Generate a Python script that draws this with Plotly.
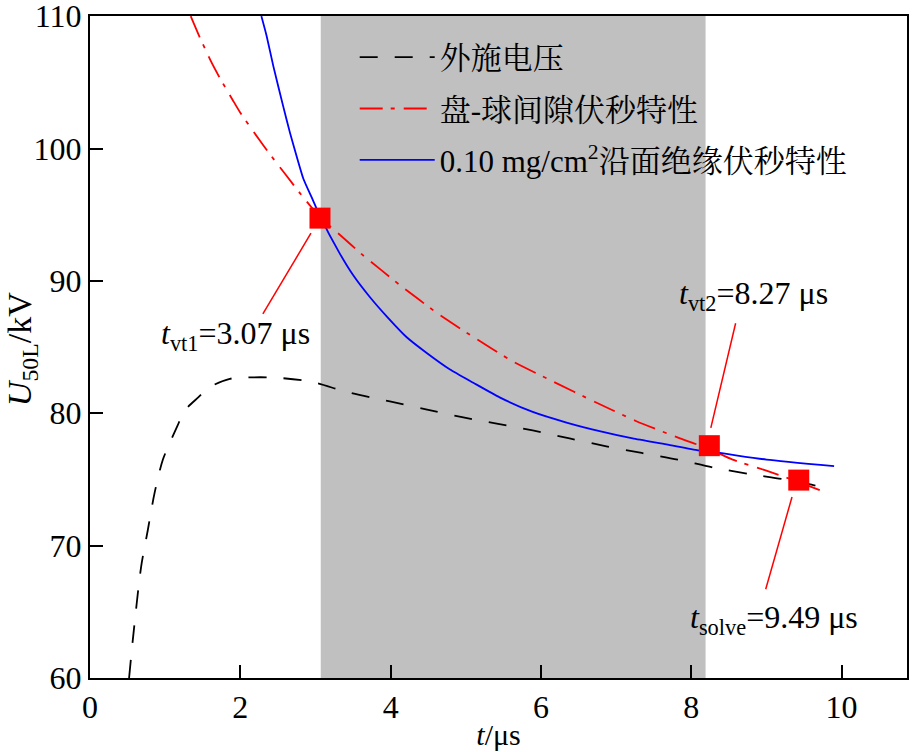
import plotly.graph_objects as go

# ---- data ----
applied_t = [0.52, 0.57, 0.68, 0.77, 0.86, 0.97, 1.16, 1.26, 1.44, 1.60, 1.86, 2.09, 2.43,
             2.93, 3.42, 3.99, 4.47, 4.95, 5.43, 5.89, 6.38, 6.87, 7.34, 7.82, 8.29, 8.78,
             9.24, 9.60, 9.75]
applied_u = [60.0, 62.9, 68.4, 71.2, 74.0, 76.5, 79.0, 80.2, 81.2, 82.0, 82.6, 82.7, 82.7,
             82.4, 81.6, 80.9, 80.3, 79.7, 79.2, 78.7, 78.1, 77.5, 77.0, 76.5, 75.9, 75.4,
             75.0, 74.6, 74.4]

gap_t = [1.34, 1.46, 1.60, 1.73, 1.90, 2.00, 2.26, 2.39, 2.62, 2.79, 3.07, 3.32, 3.63, 4.12,
         4.61, 5.10, 5.63, 6.16, 6.72, 7.27, 7.85, 8.24, 8.55, 8.98, 9.43, 9.75]
gap_u = [110.0, 108.4, 106.7, 105.3, 103.65, 102.7, 100.6, 99.6, 97.9, 96.65, 94.74, 93.5,
         91.95, 89.7, 87.6, 85.76, 83.9, 82.4, 80.85, 79.4, 78.1, 77.3, 76.5, 75.7, 74.8, 74.1]

surf_t = [2.28, 2.35, 2.44, 2.57, 2.66, 2.75, 2.84, 2.95, 3.06, 3.32, 3.50, 3.72, 3.95, 4.21,
          4.48, 4.79, 5.10, 5.45, 5.89, 6.34, 6.78, 7.22, 7.67, 8.09, 8.38, 9.00, 9.90]
surf_u = [110.0, 108.5, 106.2, 103.2, 101.2, 99.4, 97.7, 96.3, 94.9, 92.1, 90.44, 88.8, 87.3,
          85.76, 84.55, 83.3, 82.3, 81.2, 80.1, 79.3, 78.65, 78.1, 77.65, 77.2, 77.0, 76.5,
          76.0]

key_t = [3.06, 8.24, 9.43]
key_u = [94.74, 77.55, 74.95]
key_labels = ["<i>t</i><sub>vt1</sub>=3.07 μs", "<i>t</i><sub>vt2</sub>=8.27 μs",
              "<i>t</i><sub>solve</sub>=9.49 μs"]

shade_t = [3.07, 8.19]

series_names = ["外施电压", "盘-球间隙伏秒特性", "0.10 mg/cm<sup>2</sup>沿面绝缘伏秒特性"]

x_ticks = [0, 2, 4, 6, 8, 10]
y_ticks = [60, 70, 80, 90, 100, 110]

FONT = "Liberation Serif, Noto Serif CJK SC, Noto Sans CJK SC, serif"

fig = go.Figure()
fig.add_trace(go.Scatter(x=applied_t, y=applied_u, mode="lines", name=series_names[0],
                         legendgroup="a",
                         line=dict(color="black", width=1.8, dash="18px,17px",
                                   shape="spline", smoothing=0.8)))
fig.add_trace(go.Scatter(x=gap_t, y=gap_u, mode="lines", name=series_names[1],
                         legendgroup="b",
                         line=dict(color="#ff0000", width=1.8, dash="23px,8px,4px,9px",
                                   shape="spline", smoothing=0.5)))
fig.add_trace(go.Scatter(x=surf_t, y=surf_u, mode="lines", name=series_names[2],
                         legendgroup="c",
                         line=dict(color="#0000ff", width=1.8, shape="spline", smoothing=0.5)))
fig.add_trace(go.Scatter(x=key_t, y=key_u, mode="markers", showlegend=False,
                         marker=dict(symbol="square", size=21, color="#ff0000",
                                     line=dict(width=0))))

fig.add_shape(type="rect", xref="x", yref="paper", x0=shade_t[0], x1=shade_t[1],
              y0=0, y1=1, fillcolor="#c0c0c0", line=dict(width=0), layer="below")

# leader lines
leaders = [((2.94, 93.6), (2.30, 87.5)),
           ((8.59, 86.8), (8.26, 78.9)),
           ((9.34, 73.67), (8.99, 66.7))]
for (a, b) in leaders:
    fig.add_shape(type="line", xref="x", yref="y", x0=a[0], y0=a[1], x1=b[0], y1=b[1],
                  line=dict(color="#ff0000", width=1.5))

label_pos = [(1.93, 85.9), (8.83, 88.9), (9.10, 64.4)]
for (px, py), txt in zip(label_pos, key_labels):
    fig.add_annotation(x=px, y=py, xref="x", yref="y", text=txt, showarrow=False,
                       font=dict(family=FONT, size=32, color="black"))

# y-axis title
fig.add_annotation(x=-0.083, y=0.497, xref="paper", yref="paper",
                   text="<i>U</i><sub>50L</sub>/kV", textangle=-90, showarrow=False,
                   xanchor="center", yanchor="middle",
                   font=dict(family=FONT, size=34, color="black"))

fig.update_layout(
    width=912, height=752,
    margin=dict(l=90, r=5, t=16, b=74, autoexpand=False),
    paper_bgcolor="white", plot_bgcolor="white",
    font=dict(family=FONT, size=32, color="black"),
    showlegend=True,
    legend=dict(x=0.324, y=0.978, xanchor="left", yanchor="top",
                bgcolor="rgba(0,0,0,0)", tracegroupgap=8, itemwidth=75,
                font=dict(family=FONT, size=31, color="black")),
)
fig.update_xaxes(range=[0, 10.87], tickvals=x_ticks,
                 ticks="inside", ticklen=13, tickwidth=2, tickcolor="black",
                 showline=True, linecolor="black", linewidth=2, mirror=True,
                 showgrid=False, zeroline=False, automargin=False,
                 ticklabeloverflow="allow",
                 title=dict(text="<i>t</i>/μs", standoff=0, font=dict(size=30)),
                 tickfont=dict(size=32))
fig.update_yaxes(range=[60, 110.01], tickvals=y_ticks,
                 ticks="inside", ticklen=13, tickwidth=2, tickcolor="black",
                 showline=True, linecolor="black", linewidth=2, mirror=True,
                 showgrid=False, zeroline=False, automargin=False,
                 ticklabeloverflow="allow",
                 tickfont=dict(size=32))

fig.write_html("out.html", config={"displayModeBar": False},
               post_script="document.body.style.margin='0';document.body.style.padding='0';")
